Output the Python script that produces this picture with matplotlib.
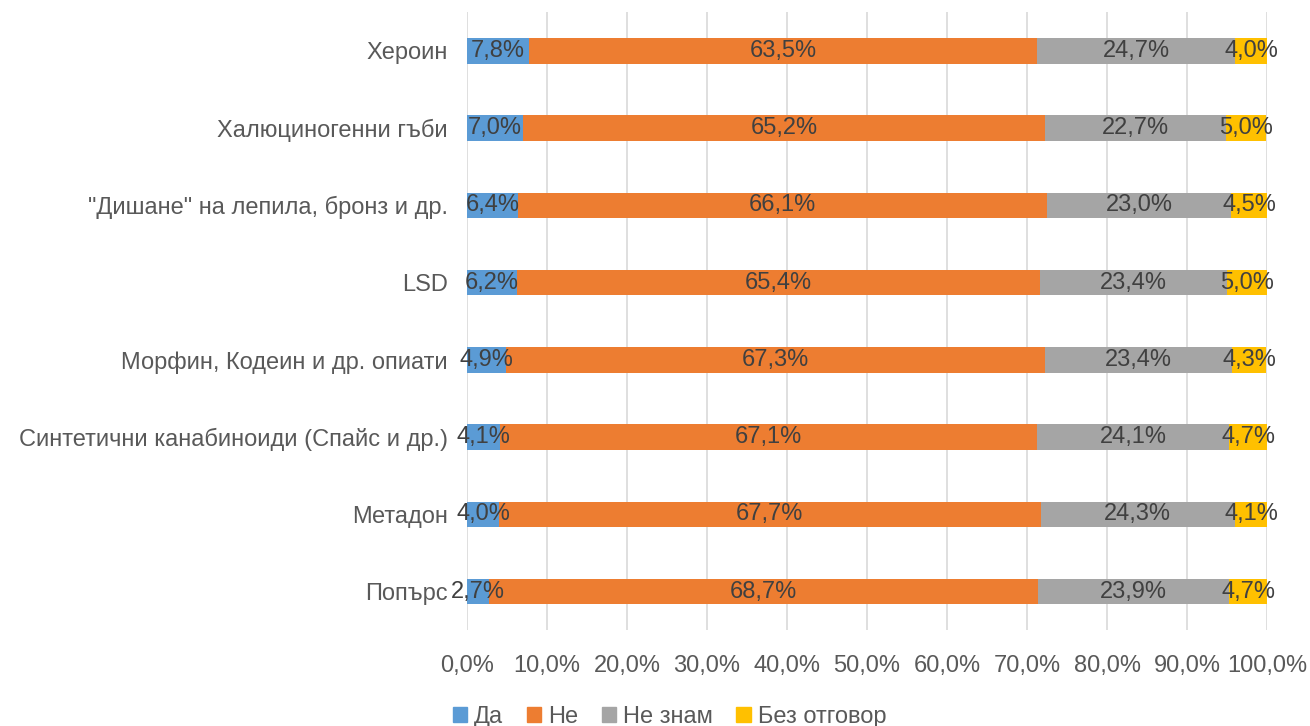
import numpy as np
import matplotlib.pyplot as plt
from matplotlib.patches import Patch

plt.rcParams['font.family'] = ['Liberation Sans', 'DejaVu Sans']

categories = ['Хероин', 'Халюциногенни гъби', '"Дишане" на лепила, бронз и др.', 'LSD',
              'Морфин, Кодеин и др. опиати', 'Синтетични канабиноиди (Спайс и др.)',
              'Метадон', 'Попърс']
da = [7.8, 7.0, 6.4, 6.2, 4.9, 4.1, 4.0, 2.7]
ne = [63.5, 65.2, 66.1, 65.4, 67.3, 67.1, 67.7, 68.7]
ne_znam = [24.7, 22.7, 23.0, 23.4, 23.4, 24.1, 24.3, 23.9]
bez = [4.0, 5.0, 4.5, 5.0, 4.3, 4.7, 4.1, 4.7]
series_names = ['Да', 'Не', 'Не знам', 'Без отговор']
colors = ['#5B9BD5', '#ED7D31', '#A5A5A5', '#FFC000']
xticks = np.arange(0, 101, 10)

fs = 17
fig = plt.figure(figsize=(13.1, 7.26), dpi=100)
ax = fig.add_axes([0.3565, 0.132, 0.6107, 0.851])

y = np.arange(len(categories))[::-1]
left = np.zeros(len(categories))
for vals, name, c in zip([da, ne, ne_znam, bez], series_names, colors):
    vals = np.array(vals) / 100
    ax.barh(y, vals, left=left, height=0.33, color=c, label=name, zorder=3)
    for yi, l, v in zip(y, left, vals):
        ax.text(l + v / 2, yi, f'{v*100:.1f}%'.replace('.', ','), ha='center', va='center',
                fontsize=fs, color='#404040', zorder=4)
    left = left + vals

ax.set_xlim(0, 1)
ax.set_ylim(-0.5, len(categories) - 0.5)
ax.set_yticks(y)
ax.set_yticklabels(categories, fontsize=fs, color='#595959')
ax.set_xticks(xticks / 100)
ax.set_xticklabels([f'{t:.1f}%'.replace('.', ',') for t in xticks], fontsize=fs, color='#595959')
ax.tick_params(length=0, pad=18, axis='x')
ax.tick_params(length=0, pad=14, axis='y')
ax.grid(axis='x', color='#D9D9D9', linewidth=1.2, zorder=0)
for s in ax.spines.values():
    s.set_visible(False)

handles = [Patch(color=c) for c in colors]
fig.legend(handles, series_names, loc='lower center', bbox_to_anchor=(0.511, -0.032), ncol=4,
           frameon=False, fontsize=fs, handlelength=0.6, handleheight=0.6,
           handletextpad=0.3, columnspacing=1.0, labelcolor='#595959')

fig.savefig('out.png', dpi=100)
